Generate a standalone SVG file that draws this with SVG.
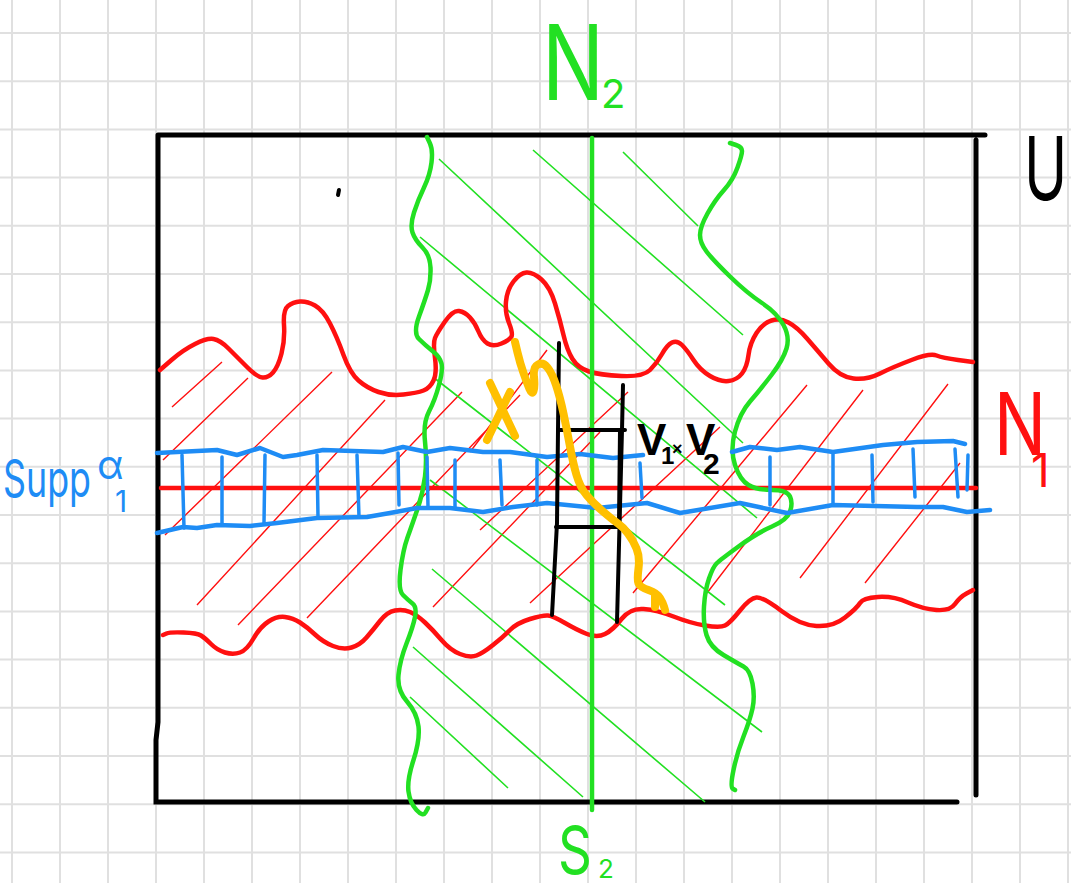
<svg xmlns="http://www.w3.org/2000/svg" width="1071" height="883" viewBox="0 0 1071 883">
<style>
.grid line{stroke:#e0e0e0;stroke-width:2}
.frame{stroke:#000;stroke-width:5;fill:none;stroke-linecap:round}
.red{stroke:#ff1010;stroke-width:4.5;fill:none;stroke-linecap:round;stroke-linejoin:round}
.redh{stroke:#ff1010;stroke-width:1.4;fill:none}
.grn{stroke:#22e022;stroke-width:4.5;fill:none;stroke-linecap:round;stroke-linejoin:round}
.grnh{stroke:#22e022;stroke-width:1.6;fill:none}
.blue{stroke:#1e8cf5;stroke-width:4.5;fill:none;stroke-linecap:round;stroke-linejoin:round}
.tick{stroke:#1e8cf5;stroke-width:3.5;fill:none;stroke-linecap:round}
.blk{stroke:#000;stroke-width:4;fill:none;stroke-linecap:round;stroke-linejoin:round}
.org{stroke:#ffc000;stroke-width:8;fill:none;stroke-linecap:round;stroke-linejoin:round}
.lbl{font-family:Inter,"Open Sans","Liberation Sans",sans-serif;font-weight:400}
.vb{font-family:"Liberation Sans",sans-serif;font-weight:bold;fill:#000}
</style>
<rect width="1071" height="883" fill="#fff"/>
<g id="grid" class="grid">
<line x1="12" y1="0" x2="12" y2="883"/><line x1="60" y1="0" x2="60" y2="883"/><line x1="108" y1="0" x2="108" y2="883"/><line x1="156" y1="0" x2="156" y2="883"/><line x1="204" y1="0" x2="204" y2="883"/><line x1="252" y1="0" x2="252" y2="883"/><line x1="300" y1="0" x2="300" y2="883"/><line x1="348" y1="0" x2="348" y2="883"/><line x1="396" y1="0" x2="396" y2="883"/><line x1="444" y1="0" x2="444" y2="883"/><line x1="492" y1="0" x2="492" y2="883"/><line x1="540" y1="0" x2="540" y2="883"/><line x1="588" y1="0" x2="588" y2="883"/><line x1="636" y1="0" x2="636" y2="883"/><line x1="684" y1="0" x2="684" y2="883"/><line x1="732" y1="0" x2="732" y2="883"/><line x1="780" y1="0" x2="780" y2="883"/><line x1="828" y1="0" x2="828" y2="883"/><line x1="876" y1="0" x2="876" y2="883"/><line x1="924" y1="0" x2="924" y2="883"/><line x1="972" y1="0" x2="972" y2="883"/><line x1="1020" y1="0" x2="1020" y2="883"/><line x1="1068" y1="0" x2="1068" y2="883"/>
<line x1="0" y1="33" x2="1071" y2="33"/><line x1="0" y1="81.2" x2="1071" y2="81.2"/><line x1="0" y1="129.4" x2="1071" y2="129.4"/><line x1="0" y1="177.6" x2="1071" y2="177.6"/><line x1="0" y1="225.8" x2="1071" y2="225.8"/><line x1="0" y1="274" x2="1071" y2="274"/><line x1="0" y1="322.2" x2="1071" y2="322.2"/><line x1="0" y1="370.4" x2="1071" y2="370.4"/><line x1="0" y1="418.6" x2="1071" y2="418.6"/><line x1="0" y1="466.8" x2="1071" y2="466.8"/><line x1="0" y1="515" x2="1071" y2="515"/><line x1="0" y1="563.2" x2="1071" y2="563.2"/><line x1="0" y1="611.4" x2="1071" y2="611.4"/><line x1="0" y1="659.6" x2="1071" y2="659.6"/><line x1="0" y1="707.8" x2="1071" y2="707.8"/><line x1="0" y1="756" x2="1071" y2="756"/><line x1="0" y1="804.2" x2="1071" y2="804.2"/><line x1="0" y1="852.4" x2="1071" y2="852.4"/>
</g>
<g id="frame-U">
<path class="frame" d="M158,135 L985,135 M158,135 L158,722 L156,740 L156,802 L957,802 M976,140 L976,795"/>
<path class="blk" stroke-width="3" d="M339,190 L338,195"/>
</g>
<g id="N1-hatch">
<path class="redh" d="M172,407 L222,362 M163,460 L248,378 M165,535 L332,372 M197,605 L385,400 M238,625 L462,392 M307,618 L520,395 M433,607 L600,432 M530,603 L720,427 M480,530 L628,392 M470,452 L547,350 M633,593 L807,385 M707,593 L863,390 M800,578 L948,384 M865,583 L960,463"/>
</g>
<g id="N2-hatch">
<path class="grnh" d="M623,152 L698,226 M533,150 L743,335 M439,159 L743,443 M420,237 L757,518 M433,377 L725,605 M430,480 L762,732 M432,569 L705,802 M413,647 L583,797 M410,697 L508,788"/>
</g>
<g id="N1">
<path class="red" d="M160,370 L171.5,360 Q183,350 195,344 Q207,338 213.5,339 Q220,340 228.5,348.5 Q237,357 247,367 Q257,377 262.5,377.5 Q268,378 273,372.5 Q278,367 281.5,353.5 Q285,340 284,325 Q283,310 288,306 Q293,302 300,301.5 Q307,301 315,305.5 Q323,310 330,323.5 Q337,337 343.5,355 Q350,373 358.5,380.5 Q367,388 378.5,392 Q390,396 403.5,394.5 Q417,393 423.5,390.5 Q430,388 433.5,380.5 Q437,373 435,358 Q433,343 435,338 Q437,333 445,321.5 Q453,310 459,311 Q465,312 470,317.5 Q475,323 478.5,331.5 Q482,340 487.5,343.5 Q493,347 501.5,343.5 Q510,340 511.5,336.5 Q513,333 509,323 Q505,313 506,301.5 Q507,290 513.5,281.5 Q520,273 526.5,272.5 Q533,272 541.5,279.5 Q550,287 555,303.5 Q560,320 563.5,335 Q567,350 572.5,359 Q578,368 589,371.5 Q600,375 621.5,376 Q643,377 650,370 Q657,363 662,354 Q667,345 672,342.5 Q677,340 682,345 Q687,350 693.5,360 Q700,370 710,376 Q720,382 728.5,381 Q737,380 742,373.5 Q747,367 748.5,355 Q750,343 756.5,333 Q763,323 771.5,320.5 Q780,318 788.5,322.5 Q797,327 807,338.5 Q817,350 828.5,363.5 Q840,377 853.5,378.5 Q867,380 880,373.5 Q893,367 911.5,360 Q930,353 936.5,355.5 Q943,358 958,360 L973,362"/>
<path class="red" d="M163,635 L166.5,633.5 Q170,632 183.5,632.5 Q197,633 201,635.5 Q205,638 211,644 Q217,650 225,652.5 Q233,655 240,652.5 Q247,650 253.5,638.5 Q260,627 268.5,621.5 Q277,616 285,617 Q293,618 300,622.5 Q307,627 315,634.5 Q323,642 333,646 Q343,650 351.5,647.5 Q360,645 366.5,637.5 Q373,630 380,621 Q387,612 395,610.5 Q403,609 410,612 Q417,615 425,622.5 Q433,630 441.5,640 Q450,650 460,654 Q470,658 476.5,655.5 Q483,653 493,645 Q503,637 510,630 Q517,623 530,619 Q543,615 548,615.5 Q553,616 565,623 Q577,630 587,634 Q597,638 605,634 Q613,630 621.5,619 Q630,608 643.5,609 Q657,610 673.5,616.5 Q690,623 705,625.5 Q720,628 725,625.5 Q730,623 740,610.5 Q750,598 756.5,597.5 Q763,597 781.5,611 Q800,625 816.5,626 Q833,627 845,617.5 Q857,608 860,603 Q863,598 878,597 Q893,596 908,602.5 Q923,609 936.5,610 Q950,611 955,604 Q960,597 966.5,593.5 L973,590"/>
<path class="red" stroke-width="4" d="M161,488 L976,488"/>
</g>
<g id="N2">
<path class="grn" d="M427,137 L430,143.5 Q433,150 431.5,162.5 Q430,175 424,187.5 Q418,200 414,212.5 Q410,225 412.5,232.5 Q415,240 422.5,247.5 Q430,255 430.5,267.5 Q431,280 428,290 Q425,300 419,316.5 Q413,333 419,339 Q425,345 432.5,351 Q440,357 441.5,363.5 Q443,370 439,385 Q435,400 429,411.5 Q423,423 425,441.5 Q427,460 425,476.5 Q423,493 417.5,509 Q412,525 407.5,537.5 Q403,550 400.5,570 Q398,590 403,595 Q408,600 412.5,603.5 Q417,607 415,617 Q413,627 406.5,643.5 Q400,660 398.5,675 Q397,690 407,701.5 Q417,713 418.5,726.5 Q420,740 413.5,760 Q407,780 408.5,791.5 Q410,803 416.5,810 Q423,817 425.5,812.5 L428,808"/>
<path class="grn" d="M730,143 L736,145 Q742,147 742,151 Q742,155 737.5,167.5 Q733,180 724,190 Q715,200 707.5,213.5 Q700,227 700,235 Q700,243 706.5,251.5 Q713,260 730,276.5 Q747,293 762,303 Q777,313 783.5,325 Q790,337 786.5,348.5 Q783,360 771.5,375 Q760,390 750,401.5 Q740,413 735,431.5 Q730,450 735,465 Q740,480 748.5,485 Q757,490 772,490 Q787,490 790,496.5 Q793,503 790,511.5 Q787,520 772,526.5 Q757,533 738.5,546.5 Q720,560 716.5,563.5 Q713,567 709,578.5 Q705,590 704,606.5 Q703,623 706.5,635 Q710,647 723.5,655 Q737,663 743.5,666.5 Q750,670 752.5,683.5 Q755,697 752.5,708.5 Q750,720 743.5,736.5 Q737,753 733.5,770 Q730,787 732.5,788.5 L735,790"/>
<path class="grn" d="M592,138 L592,810"/>
</g>
<g id="supp-band">
<path class="blue" d="M157,453 L217,450 L237,455 L260,448 L283,457 L297,455 L323,450 L383,452 L403,447 L427,452 L450,448 L483,452 L510,452 L547,457 L580,454 L613,458 L643,455"/>
<path class="blue" d="M732,452 L750,447 L777,450 L800,447 L833,452 L883,445 L917,442 L953,441 L965,444"/>
<path class="blue" d="M157,533 L183,527 L197,528 L217,525 L250,526 L277,523 L317,518 L367,517 L390,513 L417,508 L450,508 L483,512 L513,507 L547,503 L597,508 L647,503 L680,513 L740,503 L787,513 L833,505 L917,507 L943,507 L967,512 L990,510"/>
<path class="tick" d="M182,455 L184,528 M222,457 L222,523 M265,455 L264,523 M317,455 L318,517 M357,455 L359,517 M398,453 L399,505 M427,457 L428,507 M455,460 L455,507 M500,460 L502,505 M537,460 L537,505 M640,463 L642,498 M770,457 L770,505 M833,452 L833,505 M872,455 L873,502 M913,449 L915,497 M955,449 L958,497 M968,455 L967,490"/>
</g>
<g id="V1xV2">
<path class="blk" stroke-width="4.5" d="M559,343 L558,430 L557,523 L552,615"/>
<path class="blk" d="M623,385 L622,430 L617,622"/>
<path class="blk" stroke-width="6" d="M620,430 L619,523"/>
<path class="blk" stroke-width="3.5" d="M558,430 L625,430 M556,527 L620,527"/>
</g>
<g id="path-X">
<path class="org" d="M515,342 L517.5,352.5 Q520,363 523.5,373 Q527,383 529.5,389 Q532,395 533.5,391 Q535,387 534,377 Q533,367 538,364.5 Q543,362 547.5,367.5 Q552,373 556,385 Q560,397 563.5,413.5 Q567,430 570,446.5 Q573,463 576.5,475 Q580,487 586.5,495 Q593,503 603,511.5 Q613,520 618,523.5 Q623,527 628,533.5 Q633,540 636.5,548.5 Q640,557 638.5,568.5 Q637,580 638.5,583.5 Q640,587 648.5,590 Q657,593 660,598 Q663,603 664,606.5 L665,610"/>
<path class="org" stroke-width="6" d="M655,595 L655,607"/>
<path class="org" d="M490,383 L515,436 M487,440 L510,392"/>
</g>
<g id="labels">
<text class="lbl" x="542" y="100" font-size="105" fill="#22e022" textLength="62" lengthAdjust="spacingAndGlyphs">N</text>
<text class="lbl" x="601" y="108" font-size="40" fill="#22e022">2</text>
<text class="lbl" transform="translate(558,874) scale(0.8,1)" font-size="66" fill="#22e022">S</text>
<text class="lbl" x="598" y="878" font-size="26" fill="#22e022">2</text>
<text class="lbl" transform="translate(1024,200) scale(0.66,1)" font-size="88" fill="#000">U</text>
<text class="lbl" x="994" y="455" font-size="86" fill="#ff1010" textLength="52" lengthAdjust="spacingAndGlyphs">N</text>
<text class="lbl" x="1031" y="487" font-size="46" fill="#ff1010">1</text>
<text class="lbl" x="3" y="497" font-size="52" fill="#1e8cf5" textLength="88" lengthAdjust="spacingAndGlyphs">Supp</text>
<text class="lbl" x="97" y="479" font-size="40" fill="#1e8cf5">α</text>
<text class="lbl" x="115" y="512" font-size="30" fill="#1e8cf5">1</text>
<text class="vb" x="637" y="455" font-size="44">V</text>
<text class="vb" x="661" y="464" font-size="24">1</text>
<text class="vb" x="672" y="455" font-size="18">×</text>
<text class="vb" x="686" y="455" font-size="44">V</text>
<text class="vb" x="703" y="474" font-size="30">2</text>
</g>
</svg>
